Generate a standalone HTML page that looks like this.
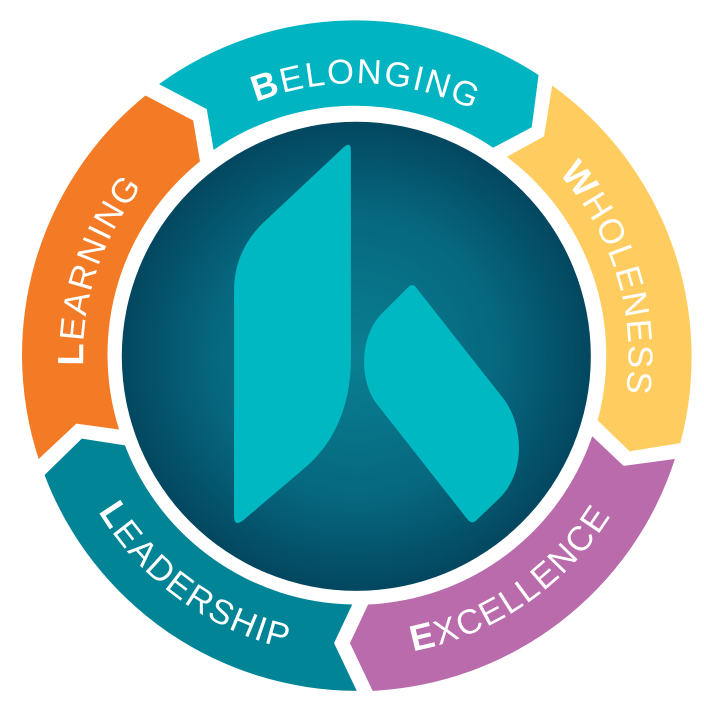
<!DOCTYPE html>
<html><head><meta charset="utf-8"><style>
html,body{margin:0;padding:0;background:#fff;width:704px;height:704px;overflow:hidden}
svg{display:block}
text{font-family:"Liberation Sans",sans-serif;fill:#fff;font-size:76px;letter-spacing:4px}
.b{font-weight:bold;font-size:80px}
</style></head><body>
<svg width="704" height="704" viewBox="0 0 1549 1549" xmlns="http://www.w3.org/2000/svg">
<defs>
<radialGradient id="g" cx="50%" cy="50%" r="50%">
<stop offset="0" stop-color="#0a7f92"/>
<stop offset="0.6" stop-color="#06687f"/>
<stop offset="1" stop-color="#034760"/>
</radialGradient>
<path id="cw" d="M783,1383 A600,600 0 1 1 783,183 A600,600 0 1 1 783,1383"/>
<path id="ccw" d="M783,121 A662,662 0 1 0 783,1445 A662,662 0 1 0 783,121"/>
</defs>
<rect width="1549" height="1549" fill="#fff"/>
<path fill="#00b5c1" d="M350,185 A736,736 0 0 1 1185,165 L1170,280 L1085,325 A546,546 0 0 0 470,330 L455,240 Z"/>
<path fill="#ffcd5f" d="M1215,188 A736,736 0 0 1 1497,975 L1385,993 L1315,925 A546,546 0 0 0 1115,345 L1197,300 Z"/>
<path fill="#b96bab" d="M1485,1010 A736,736 0 0 1 820,1520 L770,1415 L810,1330 A546,546 0 0 0 1303,960 L1372,1025 Z"/>
<path fill="#018496" d="M785,1520 A736,736 0 0 1 98,1045 L180,965 L275,980 A546,546 0 0 0 775,1330 L735,1415 Z"/>
<path fill="#f47b25" d="M85,1010 A736,736 0 0 1 320,210 L425,265 L440,355 A546,546 0 0 0 262,945 L168,932 Z"/>
<circle cx="784" cy="784" r="516" fill="url(#g)"/>
<path fill="#00b8c2" d="M772,330 L772,790 C772,900 730,980 670,1030 L535,1145 Q515,1160 515,1135 L515,640 C515,570 545,520 590,480 L755,325 Q772,310 772,330 Z"/>
<path fill="#00b8c2" d="M915,632 L1110,880 C1150,935 1160,1040 1095,1100 L1048,1145 Q1038,1155 1028,1142 L830,890 C790,840 790,740 840,690 L898,632 Q908,622 915,632 Z"/>
<text text-anchor="middle"><textPath href="#cw" startOffset="30.1%"><tspan class="b">L</tspan>EARNING</textPath></text>
<text text-anchor="middle"><textPath href="#cw" startOffset="50.6%"><tspan class="b">B</tspan>ELONGING</textPath></text>
<text text-anchor="middle"><textPath href="#cw" startOffset="70.3%"><tspan class="b">W</tspan>HOLENESS</textPath></text>
<text text-anchor="middle"><textPath href="#ccw" startOffset="40%"><tspan class="b">L</tspan>EADERSHIP</textPath></text>
<text text-anchor="middle"><textPath href="#ccw" startOffset="59.6%"><tspan class="b">E</tspan>XCELLENCE</textPath></text>
</svg>
</body></html>
